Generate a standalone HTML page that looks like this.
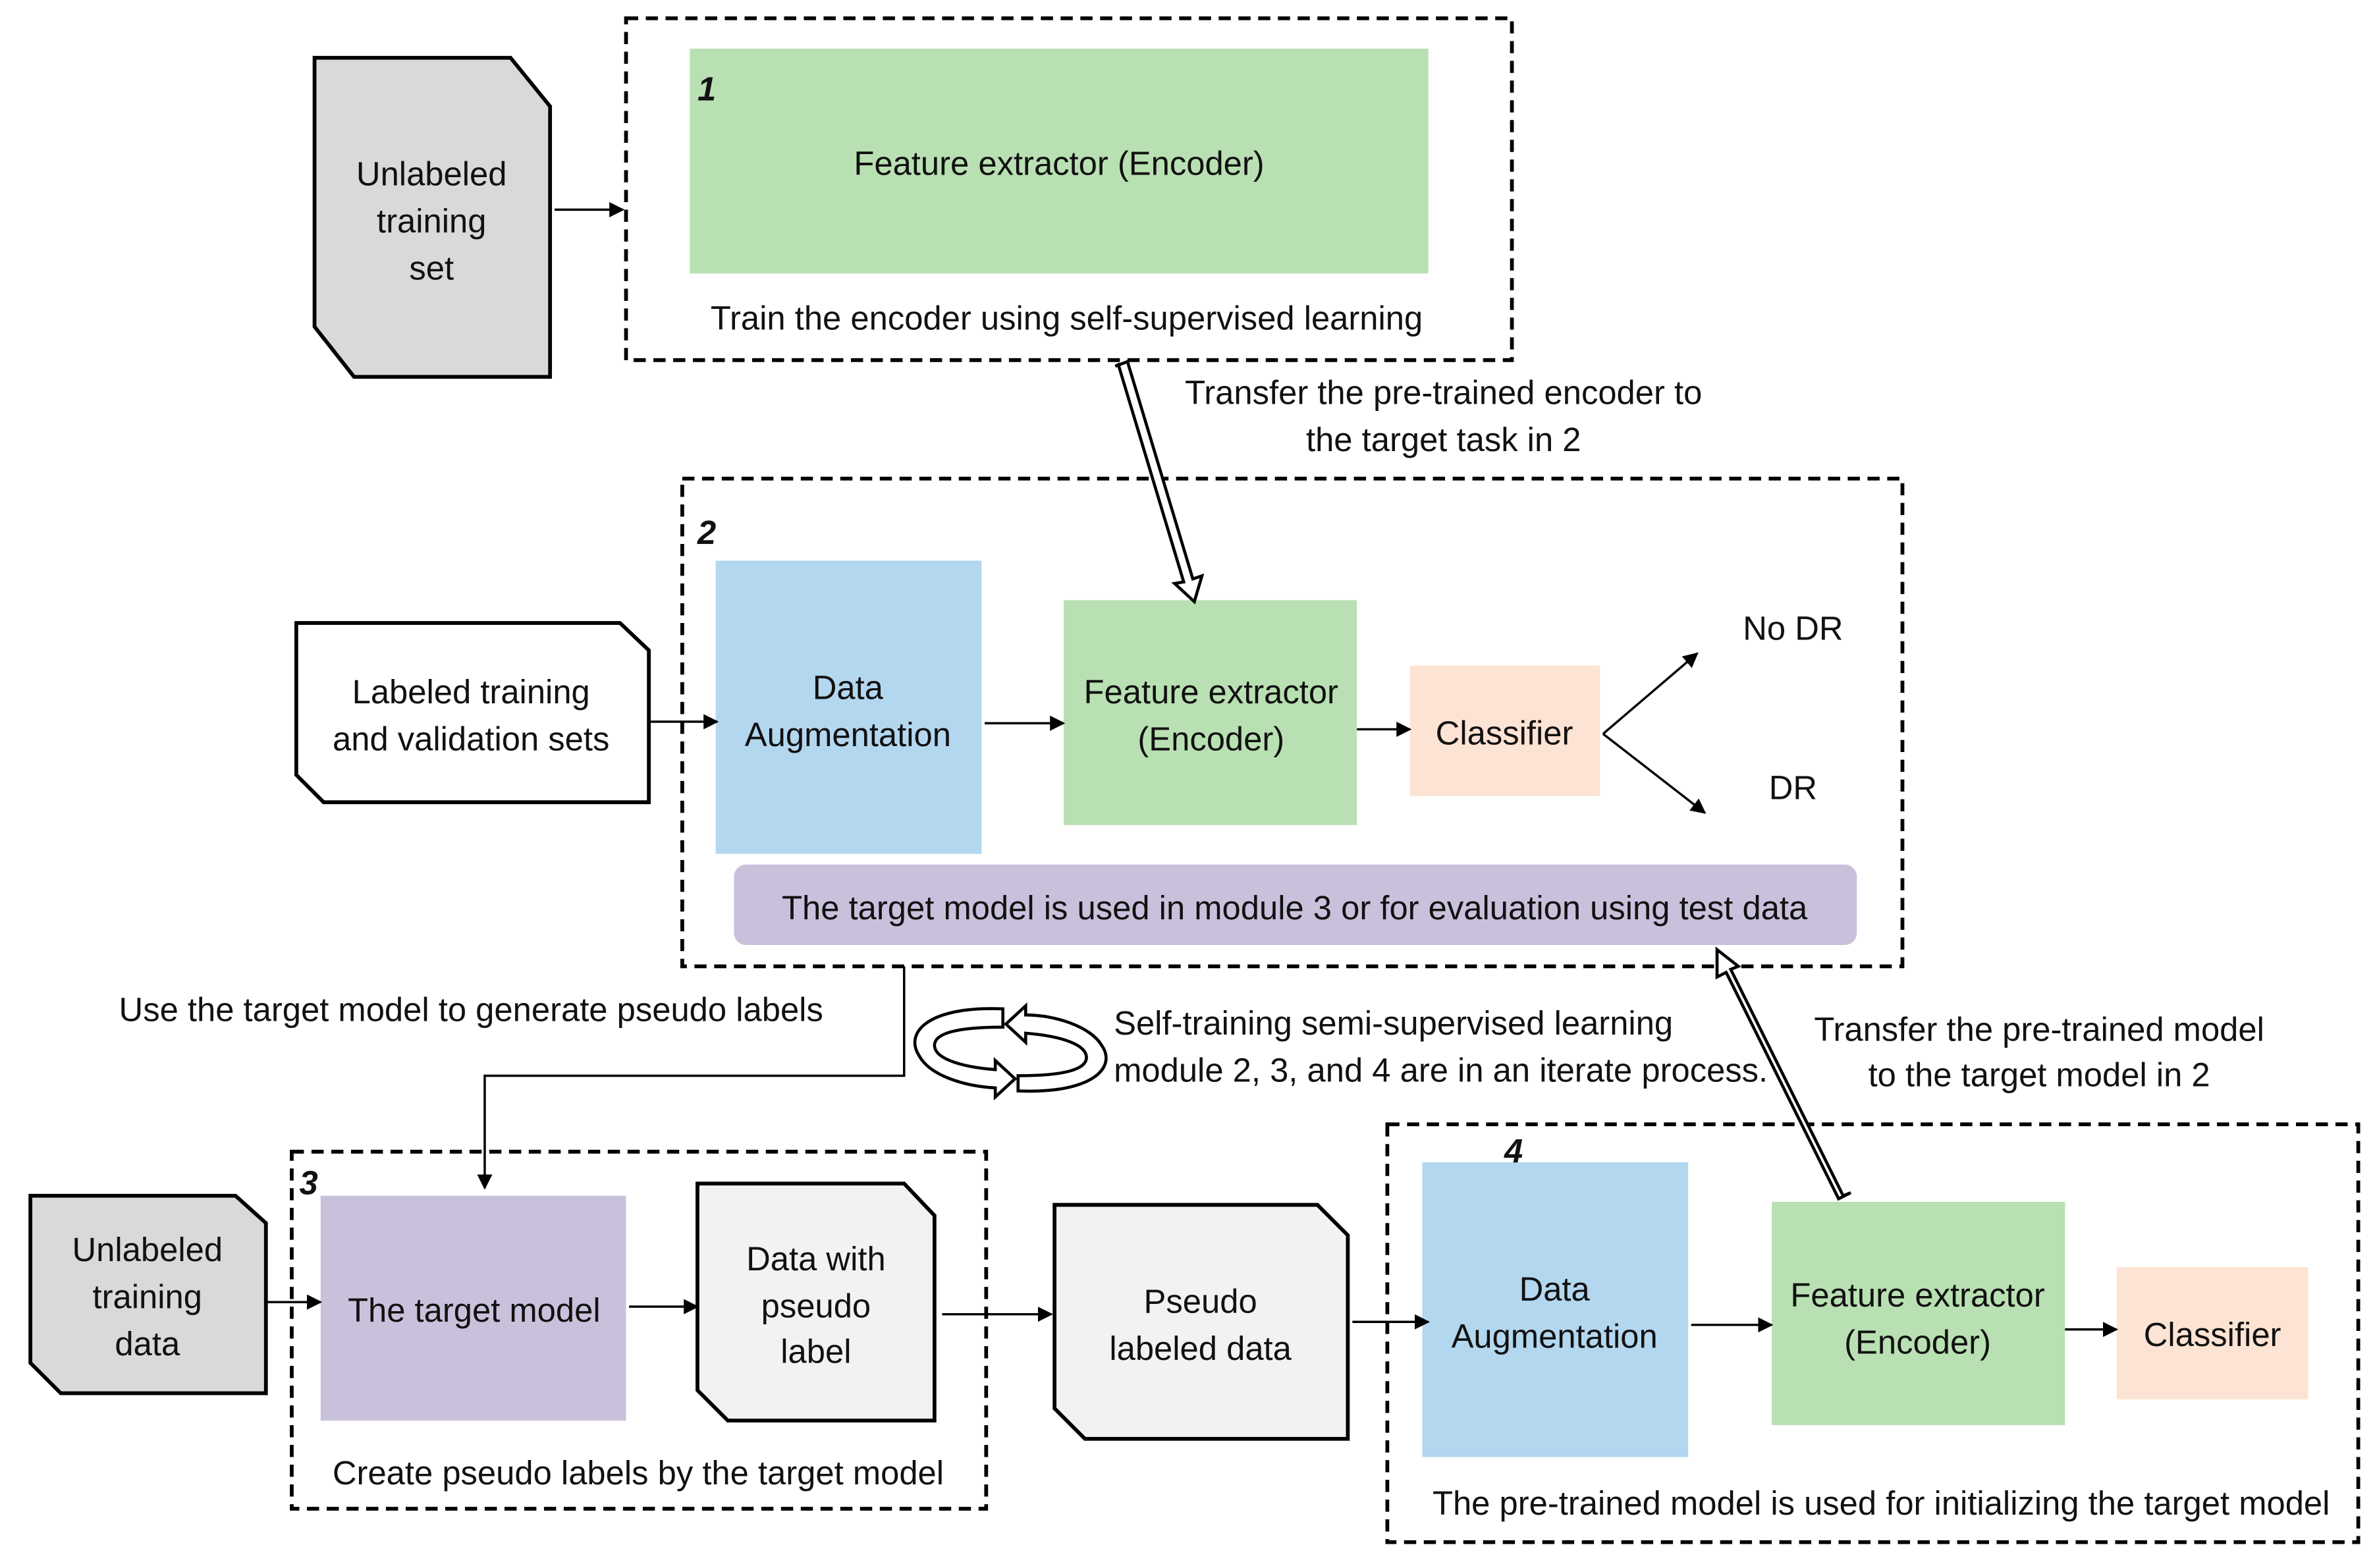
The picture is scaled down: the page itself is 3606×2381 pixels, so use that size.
<!DOCTYPE html>
<html><head><meta charset="utf-8"><style>
html,body{margin:0;padding:0;background:#fff;}
svg{display:block;}
text{font-family:"Liberation Sans","Noto Sans CJK KR",sans-serif;font-size:22px;fill:#111;}
</style></head><body>
<svg width="3606" height="2381" viewBox="0 0 1563 1032" xmlns="http://www.w3.org/2000/svg">
<defs>
<marker id="ah" markerWidth="10" markerHeight="10" refX="9" refY="5" orient="auto" markerUnits="userSpaceOnUse">
<path d="M0,0 L10,5 L0,10 z" fill="#000"/></marker>
</defs>
<rect width="1563" height="1032" fill="#fff"/>
<g stroke="#000" stroke-width="2.5" fill="none" stroke-dasharray="8,5">
<rect x="412" y="12" width="583" height="225"/>
<rect x="449" y="315" width="803" height="321"/>
<rect x="192" y="758" width="457" height="235"/>
<rect x="913" y="740" width="639" height="275"/>
</g>
<!-- documents -->
<g stroke="#000" stroke-width="2.5">
<path d="M207,38 L336,38 L362,70 L362,248 L233,248 L207,215 Z" fill="#d9d9d9"/>
<path d="M195,410 L408,410 L427,428 L427,528 L213,528 L195,510 Z" fill="#fff"/>
<path d="M20,787 L155,787 L175,805 L175,917 L40,917 L20,897 Z" fill="#d9d9d9"/>
<path d="M459,779 L595,779 L615,800 L615,935 L479,935 L459,915 Z" fill="#f2f2f2"/>
<path d="M694,793 L867,793 L887,813 L887,947 L714,947 L694,927 Z" fill="#f2f2f2"/>
</g>
<!-- boxes -->
<rect x="454" y="32" width="486" height="148" fill="#b9e0b2"/>
<rect x="471" y="369" width="175" height="193" fill="#b3d7ef"/>
<rect x="700" y="395" width="193" height="148" fill="#b9e0b2"/>
<rect x="928" y="438" width="125" height="86" fill="#fde3d3"/>
<rect x="483" y="569" width="739" height="53" rx="8" fill="#c9c1dc"/>
<rect x="211" y="787" width="201" height="148" fill="#c9c1dc"/>
<rect x="936" y="765" width="175" height="194" fill="#b3d7ef"/>
<rect x="1166" y="791" width="193" height="147" fill="#b9e0b2"/>
<rect x="1393" y="834" width="126" height="87" fill="#fde3d3"/>
<!-- arrows -->
<g stroke="#000" stroke-width="1.5" fill="none" marker-end="url(#ah)">
<line x1="365" y1="138" x2="410" y2="138"/>
<line x1="427" y1="475" x2="472" y2="475"/>
<line x1="648" y1="476" x2="700" y2="476"/>
<line x1="893" y1="480" x2="928" y2="480"/>
<line x1="1055" y1="483" x2="1117" y2="430"/>
<line x1="1055" y1="483" x2="1122" y2="535"/>
<polyline points="595,636 595,708 319,708 319,782"/>
<line x1="175" y1="857" x2="211" y2="857"/>
<line x1="414" y1="860" x2="459" y2="860"/>
<line x1="620" y1="865" x2="692" y2="865"/>
<line x1="890" y1="870" x2="940" y2="870"/>
<line x1="1113" y1="872" x2="1166" y2="872"/>
<line x1="1359" y1="875" x2="1393" y2="875"/>
</g>
<!-- hollow arrows -->
<g stroke="#000" stroke-width="2" fill="#fff">
<path d="M734,241 L742,238 L785,381 L791,379 L786,396 L773,384 L779,383 L736,240 Z"/>
<path d="M1218,785 L1210,789 L1136,640 L1130,643 L1130,625 L1144,636 L1139,638 L1213,787 Z"/>
</g>
<!-- cycle icon -->
<g stroke="#000" stroke-width="2" fill="#fff">
<path d="M660,664 C610,662 595,680 605,695 C612,708 635,715 655,716 L655,722 L668,710 L655,698 L655,704 C630,702 615,696 615,688 C615,680 630,676 660,676 Z"/>
<path d="M670,718 C720,720 735,702 725,688 C718,676 695,668 675,668 L675,662 L662,674 L675,686 L675,680 C700,682 715,688 715,696 C715,704 700,708 670,708 Z"/>
</g>
<!-- text -->
<g text-anchor="middle">
<text x="284" y="122">Unlabeled</text><text x="284" y="153">training</text><text x="284" y="184">set</text>
<text x="697" y="115">Feature extractor (Encoder)</text>
<text x="702" y="217">Train the encoder using self-supervised learning</text>
<text x="950" y="266">Transfer the pre-trained encoder to</text>
<text x="950" y="297">the target task in 2</text>
<text x="310" y="463">Labeled training</text><text x="310" y="494">and validation sets</text>
<text x="558" y="460">Data</text><text x="558" y="491">Augmentation</text>
<text x="797" y="463">Feature extractor</text><text x="797" y="494">(Encoder)</text>
<text x="990" y="490">Classifier</text>
<text x="1180" y="421">No DR</text><text x="1180" y="526">DR</text>
<text x="852" y="605">The target model is used in module 3 or for evaluation using test data</text>
<text x="310" y="672">Use the target model to generate pseudo labels</text>
<text x="1342" y="685">Transfer the pre-trained model</text>
<text x="1342" y="715">to the target model in 2</text>
<text x="97" y="830">Unlabeled</text><text x="97" y="861">training</text><text x="97" y="892">data</text>
<text x="312" y="870">The target model</text>
<text x="537" y="836">Data with</text><text x="537" y="867">pseudo</text><text x="537" y="897">label</text>
<text x="420" y="977">Create pseudo labels by the target model</text>
<text x="790" y="864">Pseudo</text><text x="790" y="895">labeled data</text>
<text x="1023" y="856">Data</text><text x="1023" y="887">Augmentation</text>
<text x="1262" y="860">Feature extractor</text><text x="1262" y="891">(Encoder)</text>
<text x="1456" y="886">Classifier</text>
<text x="1238" y="997">The pre-trained model is used for initializing the target model</text>
</g>
<text x="733" y="681">Self-training semi-supervised learning</text>
<text x="733" y="712">module 2, 3, and 4 are in an iterate process.</text>
<g font-style="italic" font-weight="bold">
<text x="459" y="66" style="font-weight:bold;font-style:italic">1</text>
<text x="459" y="358" style="font-weight:bold;font-style:italic">2</text>
<text x="197" y="786" style="font-weight:bold;font-style:italic">3</text>
<text x="990" y="765" style="font-weight:bold;font-style:italic">4</text>
</g>
</svg>
</body></html>
